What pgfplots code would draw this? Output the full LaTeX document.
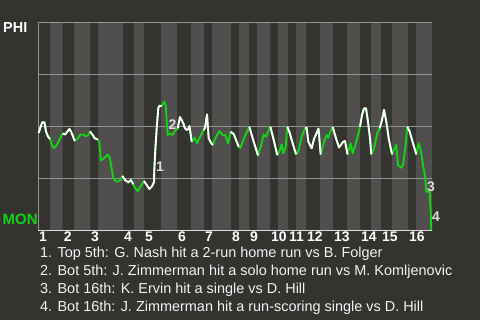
\documentclass[border=0pt]{standalone}
\usepackage{pgfplots}
\pgfplotsset{compat=1.18}
\usepackage{pgfplotstable}
\usepackage{fontspec}
\setmainfont{Liberation Sans}
\definecolor{bg}{HTML}{353330}
\definecolor{band}{HTML}{504F4D}
\definecolor{gridc}{HTML}{939393}
\definecolor{wpgreen}{HTML}{14D214}
\definecolor{note}{HTML}{DCDCDC}
\pgfplotstableread{
x y
38.7 97
40.5 103
42.3 107.7
44.5 107.5
46 98.5
48 93.5
50 91
52 84.5
54 82
56.7 85
60 91.5
62.7 96.5
65.3 95.5
67.7 99
69.5 101
71 98.5
72.7 94.5
74.7 89
77.7 91.7
80.5 95.5
83 95.5
85.5 94
88 94.5
90 98.5
92.7 95
94.7 91.7
97.7 90.5
99.3 88
100 80
101 69.5
104.3 72
107.7 75.5
110 71.7
112 59
113.3 51.7
116 48.5
118.7 48.5
120.7 51
122.5 54
125 50
128.3 47.7
131 50
133.3 45.7
135 42
137.7 39
141 44.3
144 49
146.7 45
149.3 41
151.7 43.3
154 47.7
154.3 60
155.3 80
156.7 101.7
158.3 121.7
159.3 124.3
161.7 124
164.3 128.3
165.7 125
166.7 108.3
167.7 95
170 96.7
172.3 95
175 99
177.7 101.7
180 113
183.3 106.7
185 101.7
186.7 100
188.3 101
189.5 104
191.7 88.3
194.7 92.3
197 86.7
199.3 91.7
203.7 100
205 102
207 115.7
208.7 91.7
211.3 86.7
212.7 85
215.3 91.7
219.3 99
222.7 95
225.3 95
228 86.7
230.5 98.3
233.7 96
238.7 83.3
240.3 82
244.7 93.3
249.3 103.3
253.7 88.3
258 74.5
261.3 85
263.7 95.7
266 93.3
269.5 102
270.3 103.3
273.3 91.7
277.3 75
279.3 78.3
281.7 85.7
283.3 76.7
285.7 83.3
287.3 103.3
289.3 98.3
292.7 86.7
296 75.7
298.3 78.3
301.7 93.3
305 101.7
306.7 102
308.3 88.3
311.7 81.7
314 91
318.5 101.5
320.7 75.5
324 88.3
326.7 95
328.3 92.3
330.7 99
332.7 103
336.5 90
339 82.5
343 88
345 89
347.5 75.7
350.7 86.7
352.7 76.7
355.3 85
358 95
360 103.3
362 115
364 121.7
366 121.7
368 108.3
370 91.7
371.3 75.7
374 81.7
377.3 96.7
379.7 101.7
382 110
384 120
386.3 108.3
388.7 91.7
392 75.7
394.7 81.7
396.3 85
398 65
401.3 62.3
403 65
405.3 81.7
407.3 103.3
409.7 98.3
413 86.7
416.3 75.7
418.7 86.7
420.7 80
423 65
425.3 51.7
426.3 38.3
429.7 38.3
430.7 18.3
431.3 0
}\wpdata
\pgfplotstableread{
x y
38.7 97
40.5 103
42.3 107.7
44.5 107.5
46 98.5
48 93.5
50 91
nan nan
62.7 96.5
65.3 95.5
67.7 99
69.5 101
71 98.5
72.7 94.5
74.7 89
nan nan
90 98.5
92.7 95
94.7 91.7
97.7 90.5
nan nan
122.5 54
125 50
128.3 47.7
131 50
133.3 45.7
nan nan
144 49
146.7 45
149.3 41
151.7 43.3
154 47.7
154.3 60
155.3 80
156.7 101.7
158.3 121.7
159.3 124.3
161.7 124
nan nan
177.7 101.7
180 113
183.3 106.7
185 101.7
186.7 100
188.3 101
189.5 104
191.7 88.3
nan nan
203.7 100
205 102
207 115.7
208.7 91.7
211.3 86.7
212.7 85
nan nan
230.5 98.3
233.7 96
238.7 83.3
nan nan
249.3 103.3
253.7 88.3
258 74.5
nan nan
270.3 103.3
273.3 91.7
277.3 75
nan nan
287.3 103.3
289.3 98.3
292.7 86.7
296 75.7
nan nan
305 101.7
306.7 102
308.3 88.3
311.7 81.7
314 91
318.5 101.5
320.7 75.5
nan nan
332.7 103
336.5 90
339 82.5
343 88
345 89
347.5 75.7
nan nan
360 103.3
362 115
364 121.7
366 121.7
368 108.3
370 91.7
371.3 75.7
nan nan
379.7 101.7
382 110
384 120
386.3 108.3
388.7 91.7
392 75.7
nan nan
407.3 103.3
409.7 98.3
413 86.7
416.3 75.7
}\wpwhite
\begin{document}
\begin{tikzpicture}
\fill[bg] (0bp,0bp) rectangle (480bp,320bp);
\useasboundingbox (0bp,0bp) rectangle (480bp,320bp);
\begin{axis}[
  at={(38bp,90bp)}, anchor=south west,
  scale only axis, width=394bp, height=208bp,
  xmin=38, xmax=432, ymin=0, ymax=208,
  clip=false,
  axis line style={draw=none},
  ytick=\empty,
  major tick length=0pt,
  xtick={38,62.7,90,123,144,177,204,231,249,270,288,306,333,360,381,408},
  xticklabels={1,2,3,4,5,6,7,8,9,10,11,12,13,14,15,16},
  xticklabel style={anchor=north west, inner sep=0pt, text=white,
    font=\bfseries\fontsize{14}{14}\selectfont, xshift=1bp, yshift=-1.5bp},
]
\addplot[fill=band, draw=none] coordinates {
(50,0) (50,208) (62.7,208) (62.7,0)
(74,0) (74,208) (90,208) (90,0)
(98,0) (98,208) (123,208) (123,0)
(134,0) (134,208) (144,208) (144,0)
(161,0) (161,208) (177,208) (177,0)
(191,0) (191,208) (204,208) (204,0)
(212,0) (212,208) (231,208) (231,0)
(239,0) (239,208) (249,208) (249,0)
(257,0) (257,208) (270,208) (270,0)
(278,0) (278,208) (288,208) (288,0)
(296,0) (296,208) (306,208) (306,0)
(320,0) (320,208) (333,208) (333,0)
(347,0) (347,208) (360,208) (360,0)
(371,0) (371,208) (381,208) (381,0)
(392,0) (392,208) (408,208) (408,0)
(416,0) (416,208) (432,208) (432,0)};
\draw[gridc, line width=0.9bp] (axis cs:38,52) -- (axis cs:432,52);
\draw[gridc, line width=0.9bp] (axis cs:38,104) -- (axis cs:432,104);
\draw[gridc, line width=0.9bp] (axis cs:38,156) -- (axis cs:432,156);
\draw[gridc, line width=0.9bp] (axis cs:38,208) -- (axis cs:432,208);
\draw[gridc, line width=0.9bp] (axis cs:38,0) -- (axis cs:38,208);
\draw[white!75!gray, line width=0.9bp] (axis cs:38,0) -- (axis cs:432,0);
\addplot[wpgreen, line width=1.9bp, line join=round] table {\wpdata};
\addplot[white, line width=1.9bp, line join=round, unbounded coords=jump] table {\wpwhite};
\node[text=note, font=\bfseries\fontsize{14}{14}\selectfont, inner sep=0pt] at (axis cs:160,63) {1};
\node[text=note, font=\bfseries\fontsize{14}{14}\selectfont, inner sep=0pt] at (axis cs:172.5,105) {2};
\node[text=note, font=\bfseries\fontsize{14}{14}\selectfont, inner sep=0pt] at (axis cs:431,43.5) {3};
\node[text=note, font=\bfseries\fontsize{14}{14}\selectfont, inner sep=0pt] at (axis cs:436,13) {4};
\end{axis}
\node[anchor=west, inner sep=0pt, text=white, font=\bfseries\fontsize{14.5}{15}\selectfont] at (3bp,292bp) {PHI};
\node[anchor=west, inner sep=0pt, text=wpgreen, font=\bfseries\fontsize{15}{15}\selectfont] at (2.5bp,100.5bp) {MON};
\begin{scope}[every node/.style={anchor=base west, inner sep=0pt, text=white!90!gray, font=\fontsize{14.5}{15}\selectfont}]
\node at (40bp,62.7bp) {1. Top 5th: G. Nash hit a 2-run home run vs B. Folger};
\node at (40bp,44.7bp) {2. Bot 5th: J. Zimmerman hit a solo home run vs M. Komljenovic};
\node at (40bp,26.7bp) {3. Bot 16th: K. Ervin hit a single vs D. Hill};
\node at (40bp,8.7bp) {4. Bot 16th: J. Zimmerman hit a run-scoring single vs D. Hill};
\end{scope}
\end{tikzpicture}
\end{document}
